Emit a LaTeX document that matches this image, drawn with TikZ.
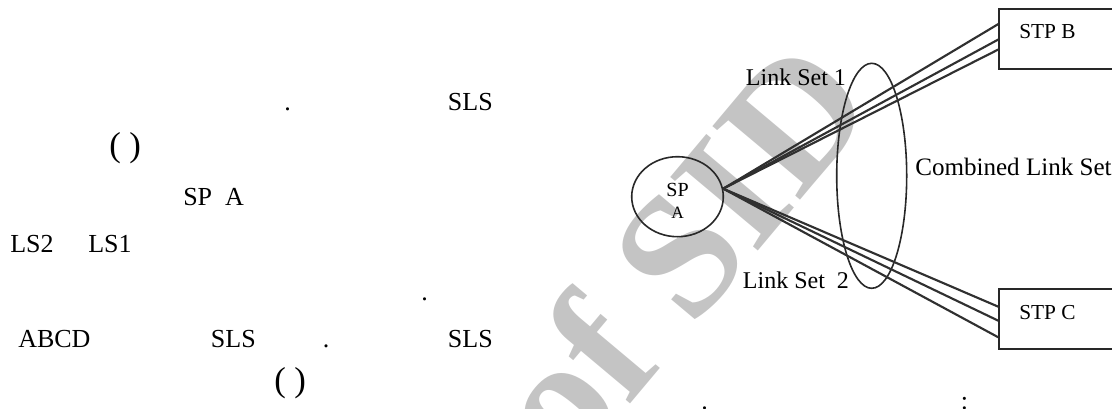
\documentclass[tikz,border=0pt]{standalone}
\usepackage{fontspec}
\setmainfont{Liberation Serif}
\usetikzlibrary{shapes.geometric}

\definecolor{wmgray}{RGB}{196,196,196}
\definecolor{linkgray}{RGB}{48,48,48}
\definecolor{edgegray}{RGB}{40,40,40}

\tikzset{
  bodytext/.style={inner sep=0pt, anchor=base west, font=\fontsize{19.5pt}{23pt}\selectfont},
  parens/.style={inner sep=0pt, anchor=base west, font=\fontsize{26pt}{29pt}\selectfont},
  linktext/.style={inner sep=0pt, anchor=base west, font=\fontsize{18pt}{21pt}\selectfont},
  boxtext/.style={inner sep=0pt, anchor=base west, font=\fontsize{16pt}{19pt}\selectfont},
  link/.style={draw=linkgray, line width=1.6pt},
  stpbox/.style={draw=edgegray, line width=1.5pt, minimum width=105pt,
    minimum height=45pt, inner sep=0pt, anchor=north west},
  oval/.style={ellipse, draw=edgegray, line width=1.2pt, inner sep=0pt},
  watermark/.style={inner sep=0pt, text=wmgray, font=\fontsize{131pt}{131pt}\selectfont\bfseries}
}

\begin{document}
\begin{tikzpicture}[x=0.75pt,y=-0.75pt]
\useasboundingbox (0,0) rectangle (1112,408);
\clip (0,0) rectangle (1112,408);

% background stamp
\node[watermark, rotate=50, anchor=base east] (stamp) at (880,106) {Archive of SID};

% running text on the left
\node[bodytext] (dotA) at (284,110.5) {.};
\node[bodytext] (slsA) at (447.7,110.5) {SLS};
\node[parens] (parA) at (109,156) {( )};
\node[bodytext] (spA) at (183,205) {SP\ \ A};
\node[bodytext] (lsTwo) at (10,252.7) {LS2};
\node[bodytext] (lsOne) at (88,252.7) {LS1};
\node[bodytext] (dotB) at (421,300) {.};
\node[bodytext] (abcd) at (18,347.7) {ABCD};
\node[bodytext] (slsB) at (210.7,347.7) {SLS};
\node[bodytext] (dotC) at (322.5,347.7) {.};
\node[bodytext] (slsC) at (447.7,347.7) {SLS};
\node[parens] (parB) at (274,391) {( )};
\node[bodytext] (dotD) at (701,409) {.};
\node[bodytext] (colon) at (960.5,409) {:};

% signalling point and transfer points
\node[oval, minimum width=68.7pt, minimum height=60pt] (spa) at (677.5,196.7) {};
\node[inner sep=0pt, anchor=base, font=\fontsize{15pt}{18pt}\selectfont] (spaname) at (677.5,196.7) {SP};
\node[inner sep=0pt, anchor=base, font=\fontsize{13pt}{15pt}\selectfont] (spaletter) at (677.5,218.3) {A};

\node[stpbox] (stpb) at (998.3,8.3) {};
\node[stpbox] (stpc) at (998.3,288.3) {};
\node[boxtext] (stpbname) at (1019,38.3) {STP B};
\node[boxtext] (stpcname) at (1019,319.3) {STP C};

% combined link set
\node[oval, minimum width=52.5pt, minimum height=168.75pt] (cls) at (871.7,175.8) {};

% link sets
\draw[link] (spa.10) -- ([yshift=-11.8pt]stpb.north west);
\draw[link] (spa.10) -- ([yshift=-23.4pt]stpb.north west);
\draw[link] (spa.10) -- ([yshift=-30.9pt]stpb.north west);
\draw[link] (spa.10) -- ([yshift=-13.8pt]stpc.north west);
\draw[link] (spa.10) -- ([yshift=-24.3pt]stpc.north west);
\draw[link] (spa.10) -- ([yshift=-36.75pt]stpc.north west);

\node[linktext] (lsetone) at (745.7,85) {Link Set 1};
\node[linktext] (lsettwo) at (742.7,288.3) {Link Set\ \ 2};
\node[linktext, font=\fontsize{18.8pt}{22pt}\selectfont] (combined) at (915,175) {Combined Link Set};
\end{tikzpicture}
\end{document}
